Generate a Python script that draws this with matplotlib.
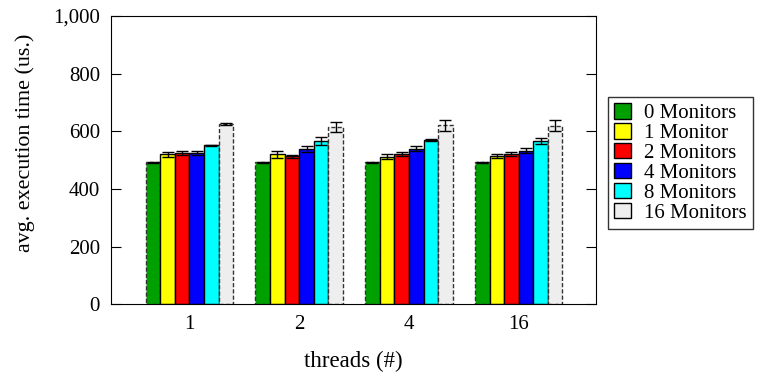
import numpy as np
from matplotlib import pyplot as plt
from matplotlib.ticker import FuncFormatter

threads = ['1', '2', '4', '16']
monitors = ['0 Monitors', '1 Monitor', '2 Monitors', '4 Monitors', '8 Monitors', '16 Monitors']
colors = ['#00a000', '#ffff00', '#ff0000', '#0000ff', '#00ffff', '#eeeeee']

# avg. execution time per thread count, one list per monitor count
t_mon0 = [492, 492, 492, 492]
t_mon1 = [520, 520, 512, 514]
t_mon2 = [525, 513, 521, 521]
t_mon4 = [525, 538, 540, 533]
t_mon8 = [551, 566, 569, 566]
t_mon16 = [625, 614, 621, 620]

err_mon0 = [2, 3, 3, 3]
err_mon1 = [8, 11, 8, 8]
err_mon2 = [6, 4, 8, 8]
err_mon4 = [6, 11, 9, 9]
err_mon8 = [3, 15, 4, 10]
err_mon16 = [3, 17, 20, 18]

values = [t_mon0, t_mon1, t_mon2, t_mon4, t_mon8, t_mon16]
errors = [err_mon0, err_mon1, err_mon2, err_mon4, err_mon8, err_mon16]

plt.rcParams['font.family'] = ['Liberation Serif', 'DejaVu Serif']
plt.rcParams['font.size'] = 15

fig = plt.figure(figsize=(7.63, 3.80), dpi=100)
ax = fig.add_axes([0.1455, 0.199, 0.635, 0.759])

x = np.arange(len(threads))
width = 0.133
for i in range(len(monitors)):
    pos = x + (i - 2.5) * width
    dashed = i in (0, 5)
    ax.bar(pos, values[i], width, color=colors[i],
           edgecolor='#333333' if dashed else 'black',
           linestyle=(0, (3, 1.5)) if dashed else '-', linewidth=1.0,
           label=monitors[i], zorder=2)
    ax.errorbar(pos, values[i], yerr=errors[i], fmt='none', ecolor='black',
                elinewidth=1.0, capsize=4, capthick=1.0, zorder=3)

ax.set_xlim(-0.715, 3.70)
ax.set_ylim(0, 1000)
ax.set_yticks(range(0, 1001, 200))
ax.yaxis.set_major_formatter(FuncFormatter(lambda v, p: f'{int(v):,}'))
ax.set_xticks(x)
ax.set_xticklabels(threads)
ax.tick_params(axis='x', length=0, pad=8)
ax.tick_params(axis='y', direction='in', length=7.5, right=True, pad=8)

ax.set_xlabel('threads (#)', fontsize=16.5, labelpad=12)
ax.set_ylabel('avg. execution time (us.)', fontsize=15.8)
ax.yaxis.set_label_coords(-0.157, 0.559)

leg = ax.legend(loc='center left', bbox_to_anchor=(1.025, 0.49), frameon=True,
                fancybox=False, edgecolor='black', handlelength=0.8,
                handleheight=0.75, handletextpad=0.65, labelspacing=0.0,
                borderpad=0.3, borderaxespad=0)
leg.get_frame().set_linewidth(1.0)
for h in leg.legend_handles:
    h.set_edgecolor('black')
    h.set_linestyle('-')

plt.savefig('out.png', dpi=100)
